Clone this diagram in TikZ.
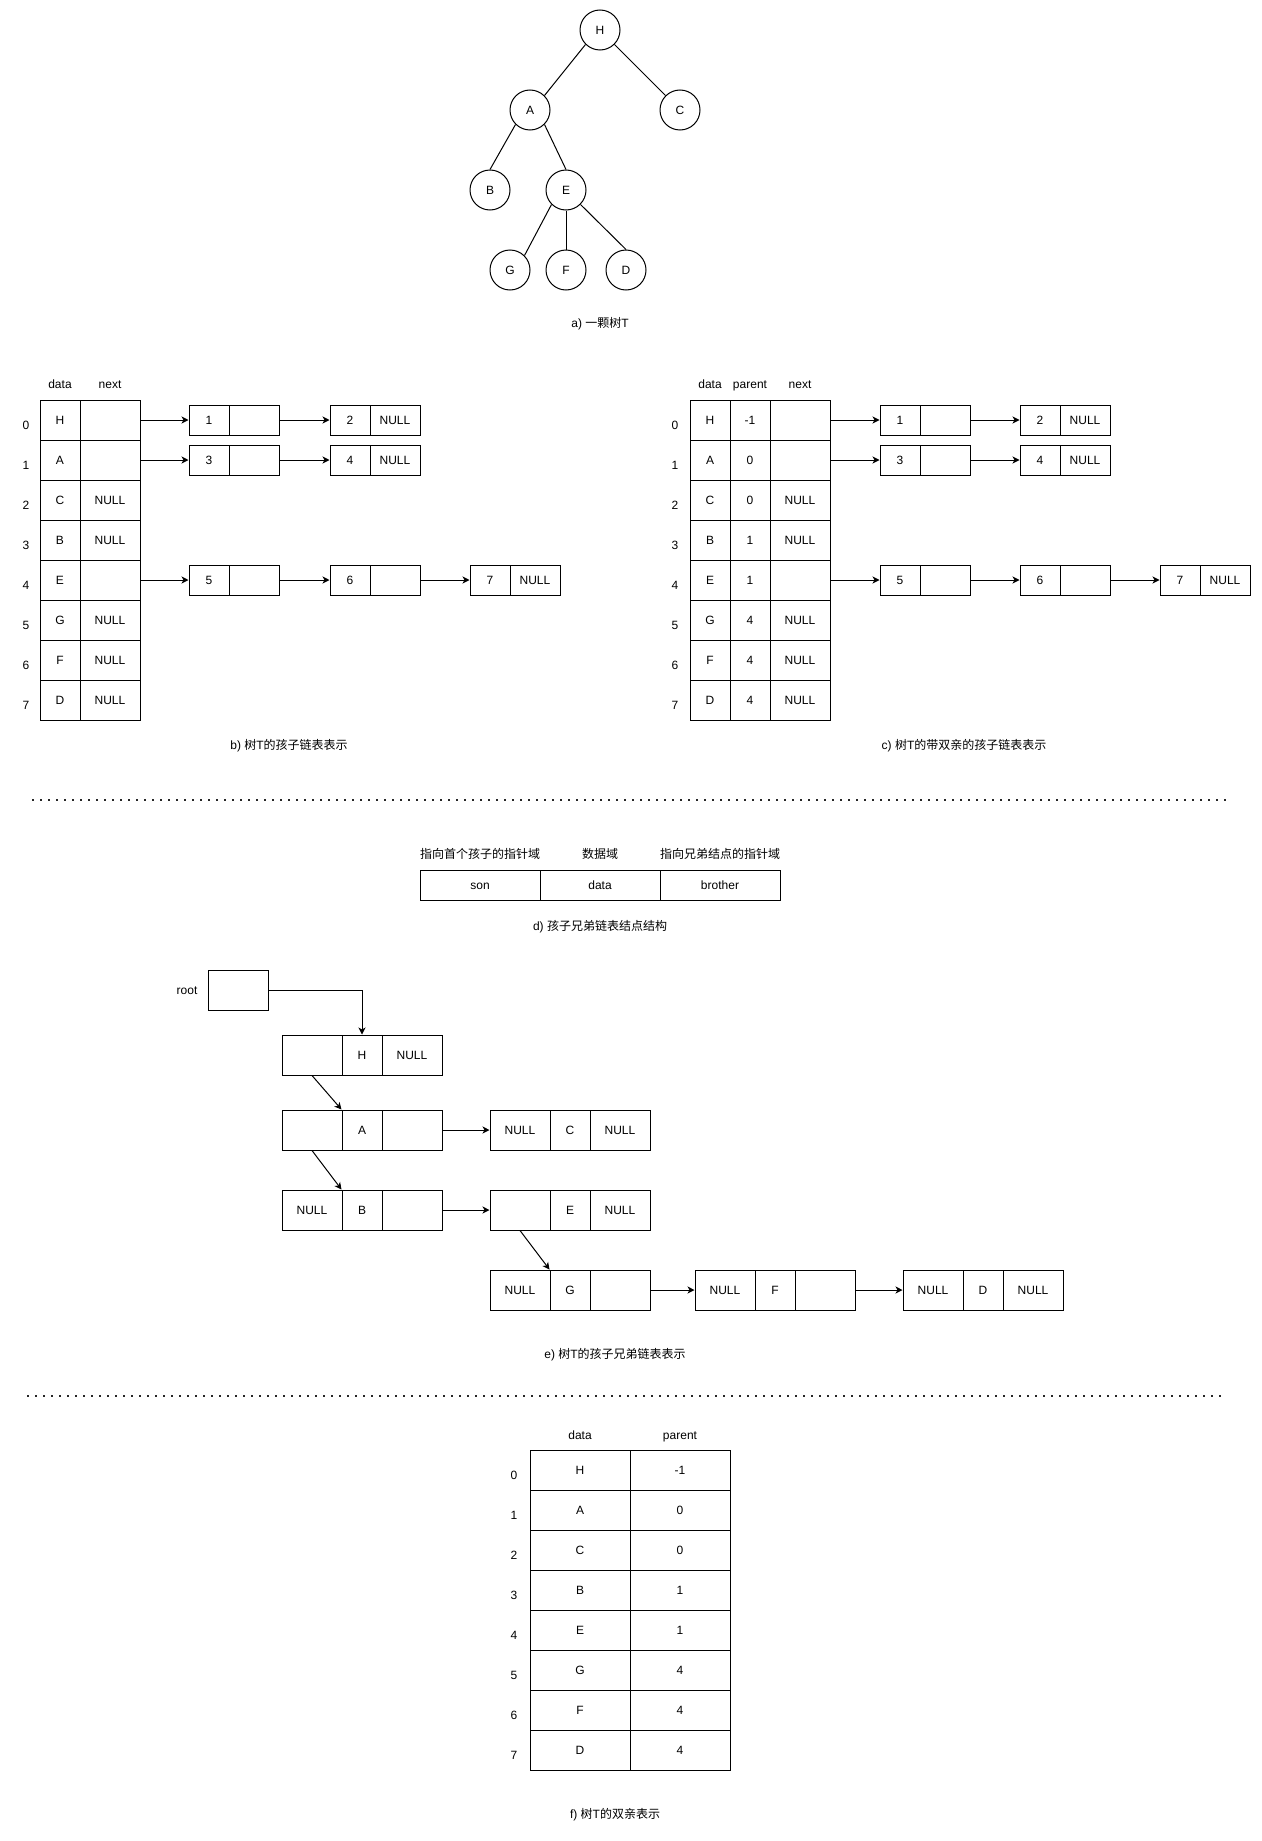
\documentclass[tikz,border=0pt]{standalone}
\usepackage{fontspec}
\setmainfont{Liberation Sans}
\newfontfamily\cjkfont{Noto Sans CJK SC}
\newcommand\zh[1]{{\cjkfont #1}}
\usetikzlibrary{arrows.meta}
\tikzset{
  every node/.style={font=\fontsize{12pt}{14pt}\selectfont},
  circ/.style={draw, circle, minimum size=40pt, inner sep=0pt, line width=1pt, text height=8.6pt, text depth=0pt},
  cellbox/.style={draw, rectangle, inner sep=0pt, line width=1pt, text height=8.6pt, text depth=0pt},
  lbl/.style={inner sep=0pt, text height=8.6pt, text depth=0pt},
  edge/.style={line width=1pt},
  arr/.style={line width=1pt, -{Stealth[length=7pt, width=7pt, inset=2pt]}},
  dotline/.style={line width=1.6pt, dash pattern=on 1.6pt off 6.4pt, black!85}
}
% row of three cells for section e: name, left x, center y, texts
\newcommand\ecellrow[6]{%
  \node[cellbox, minimum width=60pt, minimum height=40pt] (#1a) at (#2+30,#3) {#4};
  \node[cellbox, minimum width=40pt, minimum height=40pt] (#1b) at (#2+80,#3) {#5};
  \node[cellbox, minimum width=60pt, minimum height=40pt] (#1c) at (#2+130,#3) {#6};
}
% two-cell list box: name, left x, center y, texts
\newcommand\listbox[5]{%
  \node[cellbox, minimum width=40pt, minimum height=30pt] (#1a) at (#2+20,#3) {#4};
  \node[cellbox, minimum width=50pt, minimum height=30pt] (#1b) at (#2+65,#3) {#5};
}
\begin{document}
\begin{tikzpicture}[x=1pt, y=-1pt]
\useasboundingbox (0,0) rectangle (1261,1841);
\fill[white] (0,0) rectangle (1261,1841);

% ---------- a) tree ----------
\node[circ] (tH) at (600,30) {H};
\node[circ] (tA) at (530,110) {A};
\node[circ] (tC) at (680,110) {C};
\node[circ] (tB) at (490,190) {B};
\node[circ] (tE) at (566,190) {E};
\node[circ] (tG) at (510,270) {G};
\node[circ] (tF) at (566,270) {F};
\node[circ] (tD) at (626,270) {D};
\draw[edge] (tH.south west) -- (tA.north east);
\draw[edge] (tH.south east) -- (tC.north west);
\draw[edge] (tA.south west) -- (tB.north);
\draw[edge] (tA.south east) -- (tE.north);
\draw[edge] (tE.south west) -- (tG.north east);
\draw[edge] (tE.south) -- (tF.north);
\draw[edge] (tE.south east) -- (tD.north);
\node[lbl] (capA) at (600,323) {a) \zh{一颗树}T};

% ---------- b) child list ----------
\node[lbl] (bh1) at (60,384) {data};
\node[lbl] (bh2) at (110,384) {next};
\foreach \i/\d/\n in {0/H/,1/A/,2/C/NULL,3/B/NULL,4/E/,5/G/NULL,6/F/NULL,7/D/NULL}{
  \node[cellbox, minimum width=40pt, minimum height=40pt] (bd\i) at (60,420+40*\i) {\d};
  \node[cellbox, minimum width=60pt, minimum height=40pt] (bn\i) at (110,420+40*\i) {\n};
  \node[lbl] (bi\i) at (26,425+40*\i) {\i};
}
\listbox{bx1}{189}{420}{1}{}
\listbox{bx2}{330}{420}{2}{NULL}
\listbox{bx3}{189}{460}{3}{}
\listbox{bx4}{330}{460}{4}{NULL}
\listbox{bx5}{189}{580}{5}{}
\listbox{bx6}{330}{580}{6}{}
\listbox{bx7}{470}{580}{7}{NULL}
\draw[arr] (bn0.east) -- (bx1a.west);
\draw[arr] (bx1b.east) -- (bx2a.west);
\draw[arr] (bn1.east) -- (bx3a.west);
\draw[arr] (bx3b.east) -- (bx4a.west);
\draw[arr] (bn4.east) -- (bx5a.west);
\draw[arr] (bx5b.east) -- (bx6a.west);
\draw[arr] (bx6b.east) -- (bx7a.west);
\node[lbl] (capB) at (289,745) {b) \zh{树}T\zh{的孩子链表表示}};

% ---------- c) child list with parent ----------
\node[lbl] (ch1) at (710,384) {data};
\node[lbl] (ch2) at (750,384) {parent};
\node[lbl] (ch3) at (800,384) {next};
\foreach \i/\d/\p/\n in {0/H/-1/,1/A/0/,2/C/0/NULL,3/B/1/NULL,4/E/1/,5/G/4/NULL,6/F/4/NULL,7/D/4/NULL}{
  \node[cellbox, minimum width=40pt, minimum height=40pt] (cd\i) at (710,420+40*\i) {\d};
  \node[cellbox, minimum width=40pt, minimum height=40pt] (cp\i) at (750,420+40*\i) {\p};
  \node[cellbox, minimum width=60pt, minimum height=40pt] (cn\i) at (800,420+40*\i) {\n};
  \node[lbl] (ci\i) at (675,425+40*\i) {\i};
}
\listbox{cx1}{880}{420}{1}{}
\listbox{cx2}{1020}{420}{2}{NULL}
\listbox{cx3}{880}{460}{3}{}
\listbox{cx4}{1020}{460}{4}{NULL}
\listbox{cx5}{880}{580}{5}{}
\listbox{cx6}{1020}{580}{6}{}
\listbox{cx7}{1160}{580}{7}{NULL}
\draw[arr] (cn0.east) -- (cx1a.west);
\draw[arr] (cx1b.east) -- (cx2a.west);
\draw[arr] (cn1.east) -- (cx3a.west);
\draw[arr] (cx3b.east) -- (cx4a.west);
\draw[arr] (cn4.east) -- (cx5a.west);
\draw[arr] (cx5b.east) -- (cx6a.west);
\draw[arr] (cx6b.east) -- (cx7a.west);
\node[lbl] (capC) at (964,745) {c) \zh{树}T\zh{的带双亲的孩子链表表示}};

% ---------- separator 1 ----------
\coordinate (s1a) at (32,800);
\coordinate (s1b) at (1227,800);
\draw[dotline] (s1a) -- (s1b);

% ---------- d) node structure ----------
\node[lbl] (dl1) at (480,854) {\zh{指向首个孩子的指针域}};
\node[lbl] (dl2) at (600,854) {\zh{数据域}};
\node[lbl] (dl3) at (720,854) {\zh{指向兄弟结点的指针域}};
\node[cellbox, minimum width=120pt, minimum height=30pt] (dc1) at (480,885) {son};
\node[cellbox, minimum width=120pt, minimum height=30pt] (dc2) at (600,885) {data};
\node[cellbox, minimum width=120pt, minimum height=30pt] (dc3) at (720,885) {brother};
\node[lbl] (capD) at (600,926) {d) \zh{孩子兄弟链表结点结构}};

% ---------- e) child-sibling list ----------
\node[lbl] (rootl) at (187,990) {root};
\node[cellbox, minimum width=60pt, minimum height=40pt] (root) at (238,990) {};
\ecellrow{eH}{282}{1055}{}{H}{NULL}
\ecellrow{eA}{282}{1130}{}{A}{}
\ecellrow{eC}{490}{1130}{NULL}{C}{NULL}
\ecellrow{eB}{282}{1210}{NULL}{B}{}
\ecellrow{eE}{490}{1210}{}{E}{NULL}
\ecellrow{eG}{490}{1290}{NULL}{G}{}
\ecellrow{eF}{695}{1290}{NULL}{F}{}
\ecellrow{eD}{903}{1290}{NULL}{D}{NULL}
\draw[arr] (root.east) -| (eHb.north);
\draw[arr] (eHa.south) -- (eAb.north west);
\draw[arr] (eAa.south) -- (eBb.north west);
\draw[arr] (eEa.south) -- (eGb.north west);
\draw[arr] (eAc.east) -- (eCa.west);
\draw[arr] (eBc.east) -- (eEa.west);
\draw[arr] (eGc.east) -- (eFa.west);
\draw[arr] (eFc.east) -- (eDa.west);
\node[lbl] (capE) at (615,1354) {e) \zh{树}T\zh{的孩子兄弟链表表示}};

% ---------- separator 2 ----------
\coordinate (s2a) at (27,1396);
\coordinate (s2b) at (1221,1396);
\draw[dotline] (s2a) -- (s2b);

% ---------- f) parent representation ----------
\node[lbl] (fh1) at (580,1435) {data};
\node[lbl] (fh2) at (680,1435) {parent};
\foreach \i/\d/\p in {0/H/-1,1/A/0,2/C/0,3/B/1,4/E/1,5/G/4,6/F/4,7/D/4}{
  \node[cellbox, minimum width=100pt, minimum height=40pt] (fd\i) at (580,1470+40*\i) {\d};
  \node[cellbox, minimum width=100pt, minimum height=40pt] (fp\i) at (680,1470+40*\i) {\p};
  \node[lbl] (fi\i) at (514,1475+40*\i) {\i};
}
\node[lbl] (capF) at (615,1814) {f) \zh{树}T\zh{的双亲表示}};
\end{tikzpicture}
\end{document}
